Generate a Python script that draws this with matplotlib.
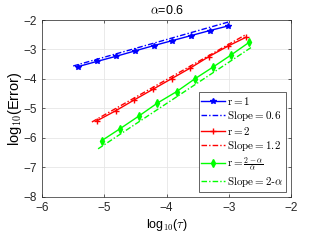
import matplotlib
matplotlib.use('Agg')
import matplotlib.pyplot as plt

plt.rcParams['mathtext.fontset'] = 'cm'
plt.rcParams['font.family'] = ['Liberation Sans', 'DejaVu Sans']

# log10(tau) and log10(error)
x_r1 = [-5.42, -5.11, -4.81, -4.51, -4.21, -3.91, -3.61, -3.31, -3.01]
y_r1 = [-3.58, -3.40, -3.23, -3.05, -2.87, -2.70, -2.53, -2.36, -2.20]

x_r2 = [-5.12, -4.81, -4.52, -4.22, -3.92, -3.62, -3.32, -3.01, -2.72]
y_r2 = [-5.42, -5.07, -4.71, -4.35, -3.99, -3.63, -3.24, -2.88, -2.58]

x_rg = [-5.04, -4.75, -4.44, -4.15, -3.84, -3.55, -3.25, -2.96, -2.67]
y_rg = [-6.09, -5.69, -5.25, -4.82, -4.43, -4.00, -3.59, -3.18, -2.75]

# reference slope lines (end points)
sx_1 = [-5.50, -3.01]
sy_1 = [-3.56, -2.07]
sx_2 = [-5.20, -2.74]
sy_2 = [-5.46, -2.51]
sx_g = [-5.10, -2.62]
sy_g = [-6.37, -2.90]

labels = [r'$\mathrm{r{=}1}$', r'$\mathrm{Slope{=}0.6}$',
          r'$\mathrm{r{=}2}$', r'$\mathrm{Slope{=}1.2}$',
          r'$\mathrm{r{=}}\frac{2-\alpha}{\alpha}$', r'$\mathrm{Slope{=}2}$-$\alpha$']

fig = plt.figure(figsize=(3.21, 2.41), dpi=100)
ax = fig.add_axes([0.131, 0.183, 0.776, 0.734])

dd = (0, (4, 1.5, 1, 1.5))
ax.plot(x_r1, y_r1, '-*', color='b', lw=1, ms=4, label=labels[0])
ax.plot(sx_1, sy_1, color='b', lw=1, linestyle=dd, label=labels[1])
ax.plot(x_r2, y_r2, '-+', color='r', lw=1, ms=5, label=labels[2])
ax.plot(sx_2, sy_2, color='r', lw=1, linestyle=dd, label=labels[3])
ax.plot(x_rg, y_rg, '-d', color='#00ff00', lw=1, ms=4, label=labels[4])
ax.plot(sx_g, sy_g, color='#00ff00', lw=1, linestyle=dd, label=labels[5])

ax.set_xlim(-6, -2)
ax.set_ylim(-8, -2)
ax.set_xticks([-6, -5, -4, -3, -2])
ax.set_yticks([-8, -7, -6, -5, -4, -3, -2])
ax.grid(True, color='#e6e6e6', lw=0.6)
ax.set_axisbelow(True)
ax.tick_params(direction='in', top=True, right=True, labelsize=8.5, length=2.5, width=0.5, colors='#262626')
for s in ax.spines.values():
    s.set_linewidth(0.5)
    s.set_color('#262626')

ax.set_title(r'$\alpha$=0.6', fontsize=9, pad=4)
ax.set_xlabel(r'log$_{10}$($\tau$)', fontsize=9, labelpad=2)
ax.set_ylabel(r'log$_{10}$(Error)', fontsize=10.5, labelpad=0)

leg = ax.legend(loc='lower right', fontsize=8, handlelength=2.1, handletextpad=0.2,
                labelspacing=0.2, borderpad=0.25, borderaxespad=0.45, fancybox=False,
                framealpha=1)
leg.get_frame().set_edgecolor('#262626')
leg.get_frame().set_linewidth(0.5)

fig.savefig('out.png', dpi=100)
